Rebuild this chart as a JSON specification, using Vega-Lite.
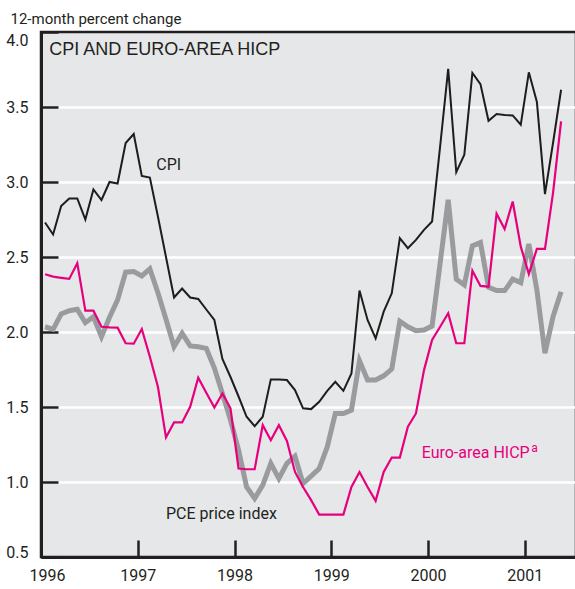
{
  "$schema": "https://vega.github.io/schema/vega-lite/v6.json",
  "width": 535,
  "height": 525,
  "autosize": {"type": "none"},
  "padding": {"left": 41, "top": 32, "right": 0, "bottom": 32},
  "background": "#ffffff",
  "config": {
    "view": {"fill": "#e6e7e8", "stroke": "#231f20", "strokeWidth": 2.5},
    "font": "Roboto, sans-serif"
  },
  "datasets": {
    "series": [
      {"month":0,"series":"CPI","value":2.73},{"month":1,"series":"CPI","value":2.65},{"month":2,"series":"CPI","value":2.84},{"month":3,"series":"CPI","value":2.89},{"month":4,"series":"CPI","value":2.89},{"month":5,"series":"CPI","value":2.75},{"month":6,"series":"CPI","value":2.95},{"month":7,"series":"CPI","value":2.88},{"month":8,"series":"CPI","value":3.0},{"month":9,"series":"CPI","value":2.99},{"month":10,"series":"CPI","value":3.26},{"month":11,"series":"CPI","value":3.32},{"month":12,"series":"CPI","value":3.04},{"month":13,"series":"CPI","value":3.03},{"month":14,"series":"CPI","value":2.77},{"month":15,"series":"CPI","value":2.5},{"month":16,"series":"CPI","value":2.23},{"month":17,"series":"CPI","value":2.29},{"month":18,"series":"CPI","value":2.23},{"month":19,"series":"CPI","value":2.22},{"month":20,"series":"CPI","value":2.15},{"month":21,"series":"CPI","value":2.08},{"month":22,"series":"CPI","value":1.82},{"month":23,"series":"CPI","value":1.7},{"month":24,"series":"CPI","value":1.57},{"month":25,"series":"CPI","value":1.435},{"month":26,"series":"CPI","value":1.372},{"month":27,"series":"CPI","value":1.435},{"month":28,"series":"CPI","value":1.684},{"month":29,"series":"CPI","value":1.684},{"month":30,"series":"CPI","value":1.68},{"month":31,"series":"CPI","value":1.613},{"month":32,"series":"CPI","value":1.491},{"month":33,"series":"CPI","value":1.486},{"month":34,"series":"CPI","value":1.535},{"month":35,"series":"CPI","value":1.608},{"month":36,"series":"CPI","value":1.668},{"month":37,"series":"CPI","value":1.608},{"month":38,"series":"CPI","value":1.724},{"month":39,"series":"CPI","value":2.276},{"month":40,"series":"CPI","value":2.08},{"month":41,"series":"CPI","value":1.958},{"month":42,"series":"CPI","value":2.136},{"month":43,"series":"CPI","value":2.258},{"month":44,"series":"CPI","value":2.626},{"month":45,"series":"CPI","value":2.559},{"month":46,"series":"CPI","value":2.614},{"month":47,"series":"CPI","value":2.681},{"month":48,"series":"CPI","value":2.737},{"month":49,"series":"CPI","value":3.237},{"month":50,"series":"CPI","value":3.754},{"month":51,"series":"CPI","value":3.066},{"month":52,"series":"CPI","value":3.182},{"month":53,"series":"CPI","value":3.727},{"month":54,"series":"CPI","value":3.653},{"month":55,"series":"CPI","value":3.408},{"month":56,"series":"CPI","value":3.453},{"month":57,"series":"CPI","value":3.447},{"month":58,"series":"CPI","value":3.444},{"month":59,"series":"CPI","value":3.382},{"month":60,"series":"CPI","value":3.731},{"month":61,"series":"CPI","value":3.533},{"month":62,"series":"CPI","value":2.919},{"month":63,"series":"CPI","value":3.26},{"month":64,"series":"CPI","value":3.615},
      {"month":0,"series":"HICP","value":2.385},{"month":1,"series":"HICP","value":2.369},{"month":2,"series":"HICP","value":2.361},{"month":3,"series":"HICP","value":2.354},{"month":4,"series":"HICP","value":2.459},{"month":5,"series":"HICP","value":2.142},{"month":6,"series":"HICP","value":2.142},{"month":7,"series":"HICP","value":2.035},{"month":8,"series":"HICP","value":2.031},{"month":9,"series":"HICP","value":2.029},{"month":10,"series":"HICP","value":1.925},{"month":11,"series":"HICP","value":1.922},{"month":12,"series":"HICP","value":2.02},{"month":13,"series":"HICP","value":1.835},{"month":14,"series":"HICP","value":1.635},{"month":15,"series":"HICP","value":1.297},{"month":16,"series":"HICP","value":1.397},{"month":17,"series":"HICP","value":1.397},{"month":18,"series":"HICP","value":1.501},{"month":19,"series":"HICP","value":1.695},{"month":20,"series":"HICP","value":1.595},{"month":21,"series":"HICP","value":1.497},{"month":22,"series":"HICP","value":1.59},{"month":23,"series":"HICP","value":1.491},{"month":24,"series":"HICP","value":1.09},{"month":25,"series":"HICP","value":1.085},{"month":26,"series":"HICP","value":1.085},{"month":27,"series":"HICP","value":1.379},{"month":28,"series":"HICP","value":1.279},{"month":29,"series":"HICP","value":1.379},{"month":30,"series":"HICP","value":1.274},{"month":31,"series":"HICP","value":1.067},{"month":32,"series":"HICP","value":0.967},{"month":33,"series":"HICP","value":0.879},{"month":34,"series":"HICP","value":0.783},{"month":35,"series":"HICP","value":0.783},{"month":36,"series":"HICP","value":0.783},{"month":37,"series":"HICP","value":0.783},{"month":38,"series":"HICP","value":0.967},{"month":39,"series":"HICP","value":1.067},{"month":40,"series":"HICP","value":0.967},{"month":41,"series":"HICP","value":0.874},{"month":42,"series":"HICP","value":1.067},{"month":43,"series":"HICP","value":1.163},{"month":44,"series":"HICP","value":1.163},{"month":45,"series":"HICP","value":1.368},{"month":46,"series":"HICP","value":1.457},{"month":47,"series":"HICP","value":1.746},{"month":48,"series":"HICP","value":1.947},{"month":49,"series":"HICP","value":2.035},{"month":50,"series":"HICP","value":2.125},{"month":51,"series":"HICP","value":1.925},{"month":52,"series":"HICP","value":1.925},{"month":53,"series":"HICP","value":2.409},{"month":54,"series":"HICP","value":2.307},{"month":55,"series":"HICP","value":2.302},{"month":56,"series":"HICP","value":2.788},{"month":57,"series":"HICP","value":2.686},{"month":58,"series":"HICP","value":2.87},{"month":59,"series":"HICP","value":2.569},{"month":60,"series":"HICP","value":2.387},{"month":61,"series":"HICP","value":2.554},{"month":62,"series":"HICP","value":2.554},{"month":63,"series":"HICP","value":2.926},{"month":64,"series":"HICP","value":3.404},
      {"month":0,"series":"PCE","value":2.035},{"month":1,"series":"PCE","value":2.018},{"month":2,"series":"PCE","value":2.12},{"month":3,"series":"PCE","value":2.142},{"month":4,"series":"PCE","value":2.151},{"month":5,"series":"PCE","value":2.062},{"month":6,"series":"PCE","value":2.102},{"month":7,"series":"PCE","value":1.969},{"month":8,"series":"PCE","value":2.098},{"month":9,"series":"PCE","value":2.214},{"month":10,"series":"PCE","value":2.399},{"month":11,"series":"PCE","value":2.403},{"month":12,"series":"PCE","value":2.374},{"month":13,"series":"PCE","value":2.421},{"month":14,"series":"PCE","value":2.262},{"month":15,"series":"PCE","value":2.085},{"month":16,"series":"PCE","value":1.902},{"month":17,"series":"PCE","value":1.991},{"month":18,"series":"PCE","value":1.907},{"month":19,"series":"PCE","value":1.902},{"month":20,"series":"PCE","value":1.891},{"month":21,"series":"PCE","value":1.76},{"month":22,"series":"PCE","value":1.59},{"month":23,"series":"PCE","value":1.413},{"month":24,"series":"PCE","value":1.212},{"month":25,"series":"PCE","value":0.967},{"month":26,"series":"PCE","value":0.89},{"month":27,"series":"PCE","value":0.979},{"month":28,"series":"PCE","value":1.124},{"month":29,"series":"PCE","value":1.023},{"month":30,"series":"PCE","value":1.124},{"month":31,"series":"PCE","value":1.172},{"month":32,"series":"PCE","value":0.99},{"month":33,"series":"PCE","value":1.039},{"month":34,"series":"PCE","value":1.09},{"month":35,"series":"PCE","value":1.234},{"month":36,"series":"PCE","value":1.457},{"month":37,"series":"PCE","value":1.457},{"month":38,"series":"PCE","value":1.479},{"month":39,"series":"PCE","value":1.808},{"month":40,"series":"PCE","value":1.68},{"month":41,"series":"PCE","value":1.68},{"month":42,"series":"PCE","value":1.708},{"month":43,"series":"PCE","value":1.753},{"month":44,"series":"PCE","value":2.072},{"month":45,"series":"PCE","value":2.035},{"month":46,"series":"PCE","value":2.009},{"month":47,"series":"PCE","value":2.013},{"month":48,"series":"PCE","value":2.04},{"month":49,"series":"PCE","value":2.459},{"month":50,"series":"PCE","value":2.881},{"month":51,"series":"PCE","value":2.352},{"month":52,"series":"PCE","value":2.314},{"month":53,"series":"PCE","value":2.574},{"month":54,"series":"PCE","value":2.596},{"month":55,"series":"PCE","value":2.298},{"month":56,"series":"PCE","value":2.276},{"month":57,"series":"PCE","value":2.276},{"month":58,"series":"PCE","value":2.352},{"month":59,"series":"PCE","value":2.329},{"month":60,"series":"PCE","value":2.587},{"month":61,"series":"PCE","value":2.28},{"month":62,"series":"PCE","value":1.858},{"month":63,"series":"PCE","value":2.102},{"month":64,"series":"PCE","value":2.269}
    ],
    "labels": [
      {"label":"CPI AND EURO-AREA HICP","series":"title","kind":"title","month":0.53,"value":3.847},
      {"label":"CPI","series":"CPI","kind":"main","month":13.8,"value":3.08},
      {"label":"PCE price index","series":"PCE","kind":"main","month":15.0,"value":0.753},
      {"label":"Euro-area HICP","series":"HICP","kind":"main","month":46.71,"value":1.16},
      {"label":"a","series":"HICP","kind":"sup","month":60.3,"value":1.2}
    ]
  },
  "data": {"name": "series"},
  "encoding": {
    "x": {
      "field": "month", "type": "quantitative",
      "scale": {"domain": [-0.5, 65.85], "nice": false, "zero": false},
      "axis": {
        "values": [-0.5, 11.5, 23.5, 35.5, 47.5, 59.5],
        "labelExpr": "'' + (1996 + round((datum.value + 0.5) / 12))",
        "title": null, "grid": false,
        "domainColor": "#231f20", "domainWidth": 3,
        "tickColor": "#231f20", "tickWidth": 2.5, "tickSize": -17,
        "labelPadding": 27, "labelFlush": false,
        "labelOffset": {"condition": {"test": "datum.value < 0", "value": 6}, "value": 0},
        "labelFontSize": 16, "labelColor": "#231f20"
      }
    },
    "y": {
      "field": "value", "type": "quantitative",
      "scale": {"domain": [0.5, 4], "nice": false, "zero": false},
      "axis": {
        "values": [0.5, 1, 1.5, 2, 2.5, 3, 3.5, 4], "format": ".1f",
        "title": "12-month percent change", "titleAngle": 0, "titleAlign": "left",
        "titleBaseline": "alphabetic", "titleX": -31, "titleY": -9,
        "titleFontSize": 15, "titleFontWeight": "normal", "titleColor": "#231f20",
        "grid": true, "gridColor": "#ffffff", "gridWidth": 2.5,
        "gridOpacity": {"condition": {"test": "datum.value >= 4 || datum.value <= 0.5", "value": 0}, "value": 1},
        "domainColor": "#231f20", "domainWidth": 3,
        "tickColor": "#231f20", "tickWidth": 2.5, "tickSize": -17,
        "labelPadding": 30, "labelFontSize": 16, "labelColor": "#231f20",
        "labelBaseline": {"condition": [{"test": "datum.value >= 4", "value": "top"}, {"test": "datum.value <= 0.5", "value": "alphabetic"}], "value": "middle"}
      }
    }
  },
  "layer": [
    {"transform": [{"filter": "datum.series == 'PCE'"}], "mark": {"type": "line", "color": "#9a9b9e", "strokeWidth": 5}},
    {"transform": [{"filter": "datum.series == 'HICP'"}], "mark": {"type": "line", "color": "#e6007e", "strokeWidth": 2.2}},
    {"transform": [{"filter": "datum.series == 'CPI'"}], "mark": {"type": "line", "color": "#1d1d1b", "strokeWidth": 2}},
    {
      "data": {"name": "labels"},
      "transform": [{"filter": "datum.kind == 'main'"}],
      "mark": {"type": "text", "align": "left", "baseline": "alphabetic", "fontSize": 16},
      "encoding": {
        "text": {"field": "label"},
        "color": {"field": "series", "type": "nominal", "scale": {"domain": ["CPI", "HICP", "PCE", "title"], "range": ["#231f20", "#e6007e", "#231f20", "#231f20"]}, "legend": null}
      }
    },
    {
      "data": {"name": "labels"},
      "transform": [{"filter": "datum.kind == 'sup'"}],
      "mark": {"type": "text", "align": "left", "baseline": "alphabetic", "fontSize": 12},
      "encoding": {
        "text": {"field": "label"},
        "color": {"field": "series", "type": "nominal", "legend": null}
      }
    },
    {
      "data": {"name": "labels"},
      "transform": [{"filter": "datum.kind == 'title'"}],
      "mark": {"type": "text", "align": "left", "baseline": "alphabetic", "fontSize": 18, "font": "Liberation Sans, Arial, sans-serif"},
      "encoding": {
        "text": {"field": "label"},
        "color": {"field": "series", "type": "nominal", "legend": null}
      }
    }
  ]
}
